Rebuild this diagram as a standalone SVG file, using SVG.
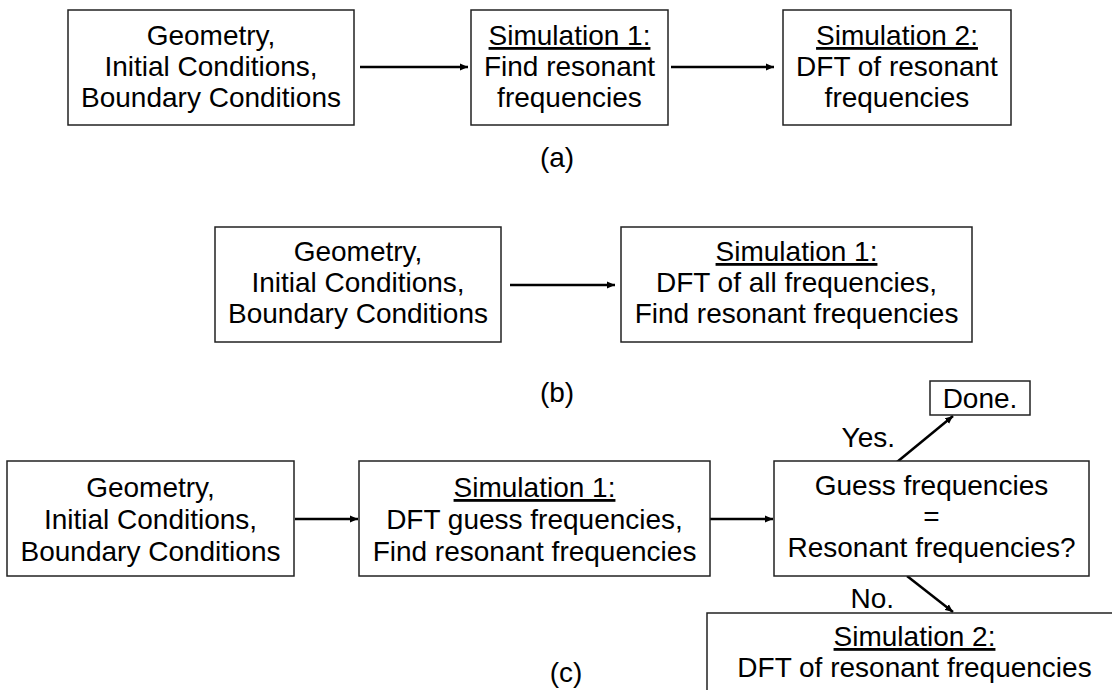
<svg xmlns="http://www.w3.org/2000/svg" width="1112" height="690" viewBox="0 0 1112 690">
<defs>
<style>
.box{fill:#fff;stroke:#222;stroke-width:1.5}
text{font-family:"Liberation Sans",Arial,Helvetica,sans-serif;font-size:28px;fill:#000}
.c{text-anchor:middle}
.u{text-decoration:underline}
.conn{stroke:#000;stroke-width:2.5;fill:none;marker-end:url(#ah)}
</style>
<marker id="ah" markerUnits="userSpaceOnUse" markerWidth="9" markerHeight="8" refX="8" refY="4" orient="auto">
<path d="M0,0.5 L8,4 L0,7.5 z" fill="#000"/>
</marker>
</defs>
<rect width="1112" height="690" fill="#fff"/>

<g id="connectors">
<line class="conn" x1="360" y1="67" x2="468" y2="67"/>
<line class="conn" x1="671" y1="67" x2="774" y2="67"/>
<line class="conn" x1="510" y1="285" x2="615" y2="285"/>
<line class="conn" x1="295" y1="519" x2="358" y2="519"/>
<line class="conn" x1="708" y1="519" x2="773" y2="519"/>
<line class="conn" x1="897" y1="462" x2="953" y2="416"/>
<line class="conn" x1="907" y1="576" x2="953" y2="612"/>
</g>

<g id="a1">
<rect class="box" x="68" y="10" width="286" height="115"/>
<text class="c" x="211" y="45">Geometry,</text>
<text class="c" x="211" y="76">Initial Conditions,</text>
<text class="c" x="211" y="107">Boundary Conditions</text>
</g>
<g id="a2">
<rect class="box" x="471" y="10" width="197" height="115"/>
<text class="c u" x="569.5" y="45">Simulation 1:</text>
<text class="c" x="569.5" y="76">Find resonant</text>
<text class="c" x="569.5" y="107">frequencies</text>
</g>
<g id="a3">
<rect class="box" x="783" y="10" width="228" height="115"/>
<text class="c u" x="897" y="45">Simulation 2:</text>
<text class="c" x="897" y="76">DFT of resonant</text>
<text class="c" x="897" y="107">frequencies</text>
</g>
<text id="label-a" class="c" x="557" y="167">(a)</text>

<g id="b1">
<rect class="box" x="215" y="227" width="286" height="115"/>
<text class="c" x="358" y="261">Geometry,</text>
<text class="c" x="358" y="292">Initial Conditions,</text>
<text class="c" x="358" y="323">Boundary Conditions</text>
</g>
<g id="b2">
<rect class="box" x="621" y="227" width="351" height="115"/>
<text class="c u" x="796.5" y="261">Simulation 1:</text>
<text class="c" x="796.5" y="292">DFT of all frequencies,</text>
<text class="c" x="796.5" y="323">Find resonant frequencies</text>
</g>
<text id="label-b" class="c" x="557" y="402">(b)</text>

<g id="c1">
<rect class="box" x="7" y="461" width="287" height="115"/>
<text class="c" x="150.5" y="497">Geometry,</text>
<text class="c" x="150.5" y="529">Initial Conditions,</text>
<text class="c" x="150.5" y="561">Boundary Conditions</text>
</g>
<g id="c2">
<rect class="box" x="359" y="461" width="351" height="115"/>
<text class="c u" x="534.5" y="497">Simulation 1:</text>
<text class="c" x="534.5" y="529">DFT guess frequencies,</text>
<text class="c" x="534.5" y="561">Find resonant frequencies</text>
</g>
<g id="c3">
<rect class="box" x="774" y="461" width="315" height="115"/>
<text class="c" x="931.5" y="495">Guess frequencies</text>
<text class="c" x="931.5" y="526">=</text>
<text class="c" x="931.5" y="557">Resonant frequencies?</text>
</g>
<g id="done">
<rect class="box" x="930" y="381" width="100" height="34"/>
<text class="c" x="980" y="408">Done.</text>
</g>
<g id="c4">
<rect class="box" x="707" y="613" width="430" height="120"/>
<text class="c u" x="914.5" y="646">Simulation 2:</text>
<text class="c" x="914.5" y="677">DFT of resonant frequencies</text>
</g>
<text id="label-yes" x="895" y="447" text-anchor="end">Yes.</text>
<text id="label-no" x="894" y="608" text-anchor="end">No.</text>
<text id="label-c" class="c" x="566" y="682">(c)</text>
</svg>
